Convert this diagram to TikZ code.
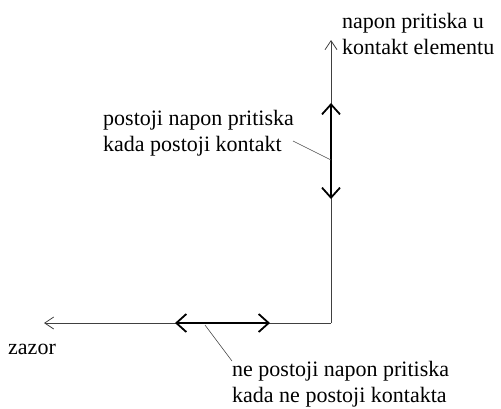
\documentclass[tikz,border=0pt]{standalone}
\usepackage{fontspec}
\setmainfont{Liberation Serif}
\newfontfamily\serifni{Liberation Serif}
\usetikzlibrary{arrows.meta}

\begin{document}
\begin{tikzpicture}[x=1pt, y=-1pt,
	osa/.style={draw=black!75, line width=0.8pt, -{Straight Barb[length=9pt, width=12pt]}},
	napon/.style={draw=black, line width=1.8pt, {Straight Barb[length=10pt, width=18pt]}-{Straight Barb[length=10pt, width=18pt]}},
	vodic/.style={draw=black!70, line width=0.6pt},
	oznaka/.style={inner sep=0pt, align=left, anchor=north west, font=\serifni\fontsize{22}{26}\selectfont}]
					\useasboundingbox (0,0) rectangle (501,408);
					\coordinate (O) at (331,323); \coordinate (ykraj) at (331,40); \coordinate (xkraj) at (44,323);
					\coordinate (v1) at (331,103); \coordinate (v2) at (331,199);
					\coordinate (h1) at (175,323); \coordinate (h2) at (270,323);
					\coordinate (p1) at (331,160); \coordinate (p2) at (205,325);
					\draw[osa] (O) -- (ykraj);
					\draw[osa] (O) -- (xkraj);
					\draw[napon] (v1) -- (v2);
					\draw[napon] (h1) -- (h2);
					\node[oznaka] (kontakt) at (342,13) {napon pritiska u\\kontakt elementu};
					\node[oznaka] (postoji) at (103,110) {postoji napon pritiska\\kada postoji kontakt};
					\node[oznaka] (zazor) at (8,344) {zazor};
					\node[oznaka] (nepostoji) at (232,361) {ne postoji napon pritiska\\kada ne postoji kontakta};
					\coordinate (l2) at (293,141);
					\draw[vodic] (l2) -- (p1);
					\draw[vodic] (nepostoji.north west) -- (p2);
				\end{tikzpicture}
\end{document}
